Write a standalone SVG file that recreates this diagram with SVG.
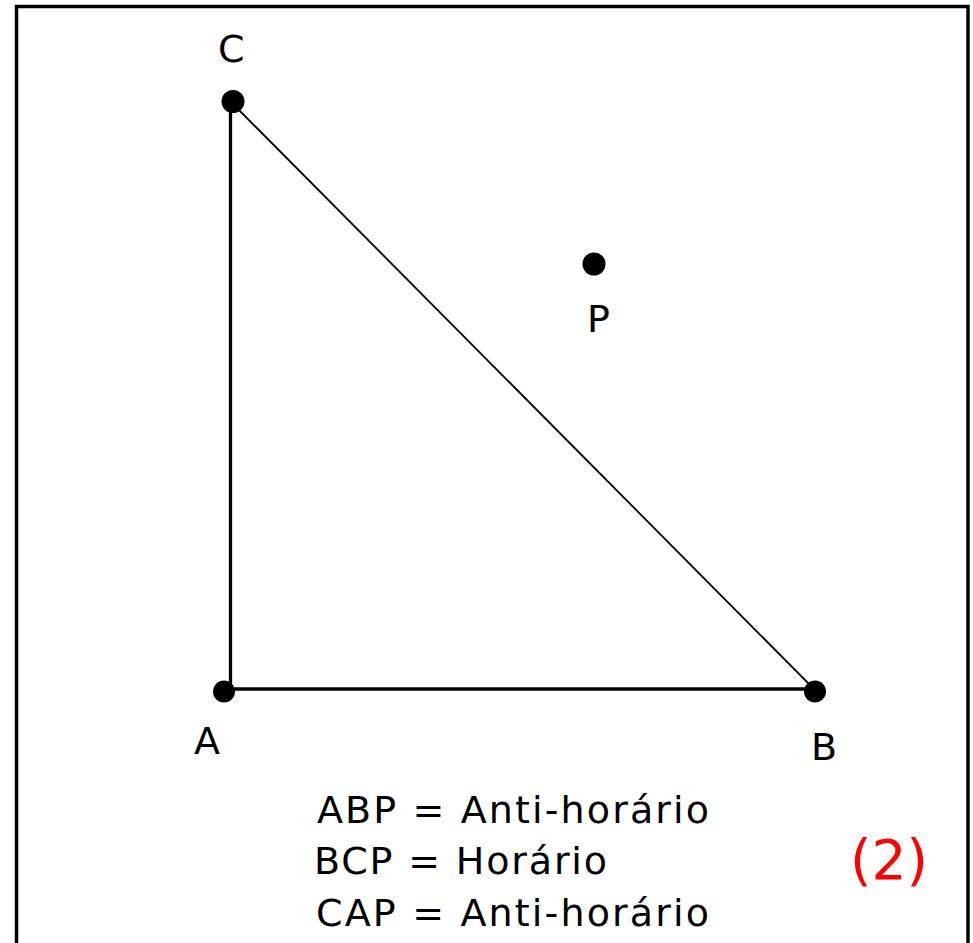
<svg xmlns="http://www.w3.org/2000/svg" width="973" height="943" viewBox="0 0 973 943">
<style>
.lbl{font-family:"DejaVu Sans","Verdana",sans-serif;font-size:38px;fill:#000}
.dot{fill:#000}
</style>
<rect x="0" y="0" width="973" height="943" fill="#fff"/>
<path d="M16.5 943 V6.5 H968 V943" fill="none" stroke="#000" stroke-width="3.5"/>
<g id="connectors" stroke="#000" fill="none">
<line x1="230.5" y1="101" x2="230.5" y2="689" stroke-width="3.3"/>
<line x1="230.5" y1="689" x2="815" y2="689" stroke-width="3.7"/>
<line x1="233" y1="104" x2="813" y2="688" stroke-width="1.8"/>
</g>
<g id="node-C"><circle class="dot" cx="233" cy="101.5" r="11.5"/><text class="lbl" x="218" y="62">C</text></g>
<g id="node-A"><circle class="dot" cx="224" cy="691.5" r="11"/><text class="lbl" x="194" y="754">A</text></g>
<g id="node-B"><circle class="dot" cx="815" cy="691.5" r="11"/><text class="lbl" x="811" y="760">B</text></g>
<g id="node-P"><circle class="dot" cx="594" cy="264" r="11.5"/><text class="lbl" x="587" y="332">P</text></g>
<g id="legend">
<text class="lbl" x="317" y="823" textLength="392" lengthAdjust="spacing">ABP = Anti-horário</text>
<text class="lbl" x="314" y="874" textLength="293" lengthAdjust="spacing">BCP = Horário</text>
<text class="lbl" x="316" y="926" textLength="393" lengthAdjust="spacing">CAP = Anti-horário</text>
</g>
<text x="850" y="879" font-family="DejaVu Sans, sans-serif" font-size="55" fill="#ff0000">(2)</text>
</svg>
